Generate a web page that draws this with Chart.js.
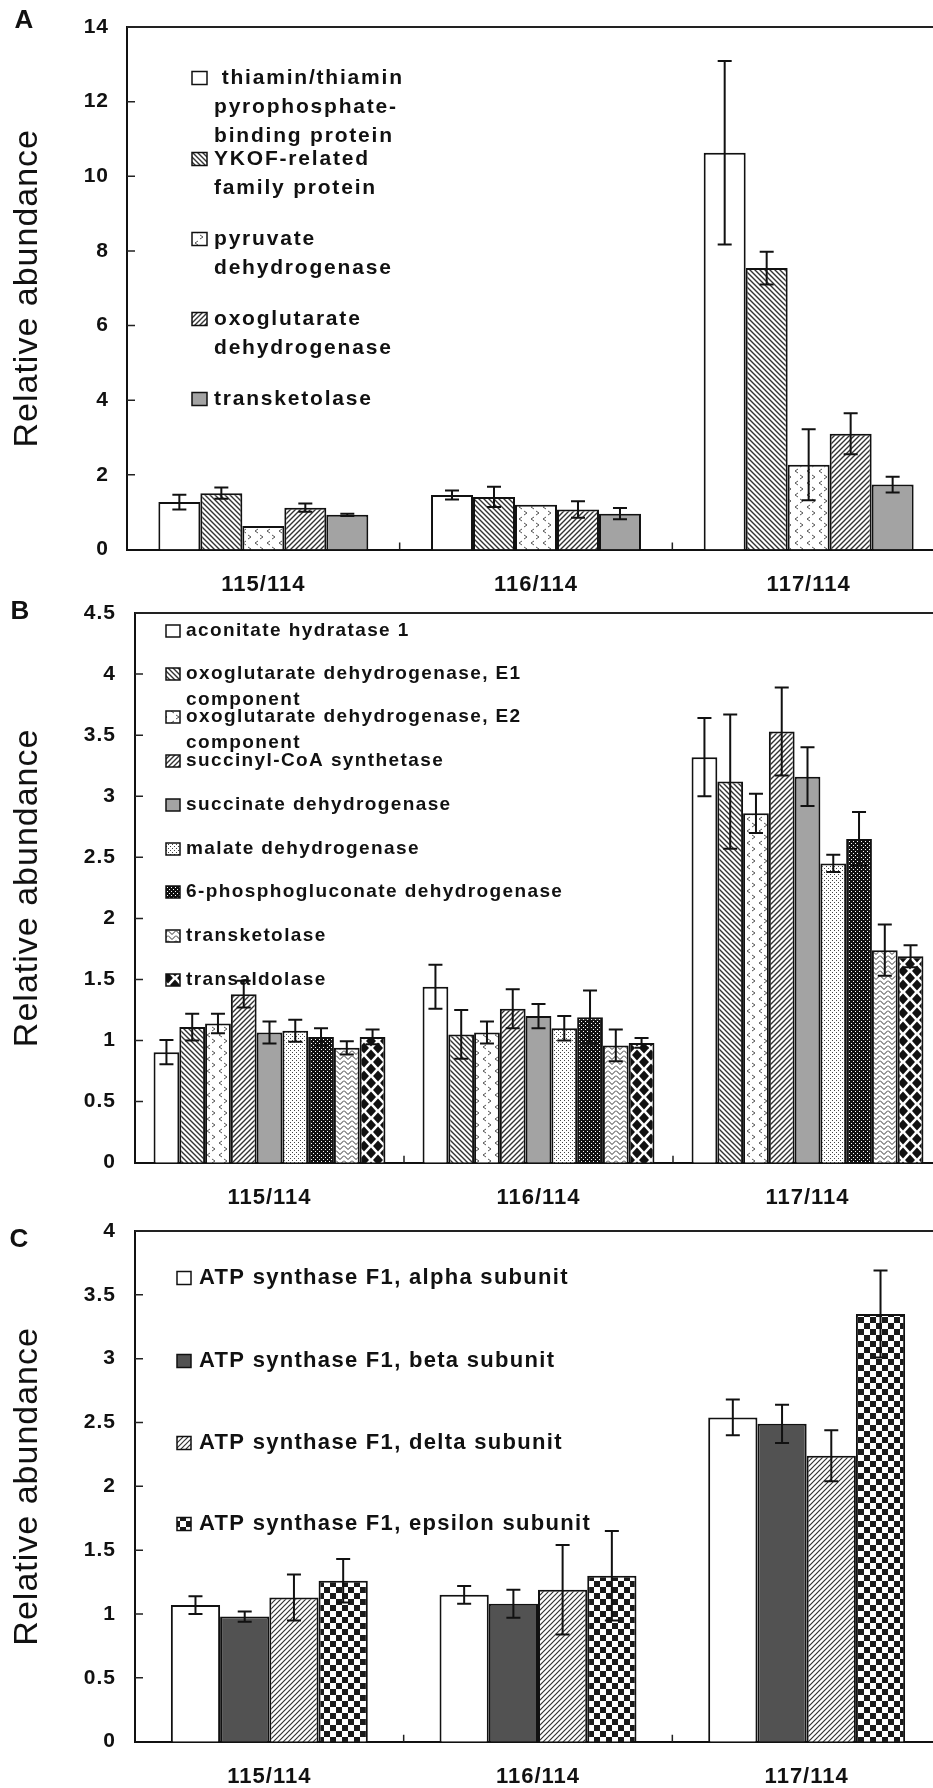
<!DOCTYPE html>
<html>
<head>
<meta charset="utf-8">
<script src="https://cdn.jsdelivr.net/npm/chart.js@4.4.0/dist/chart.umd.min.js"></script>
<style>
    html, body { margin: 0; padding: 0; background: #fff; overflow: hidden; width: 933px; height: 1788px; }
    canvas { position: absolute; left: 0; }
    #chartA { top: 0; }
    #chartB { top: 600px; }
    #chartC { top: 1215px; }
</style>
</head>
<body>
<canvas id="chartA" width="950" height="600"></canvas>
<canvas id="chartB" width="950" height="615"></canvas>
<canvas id="chartC" width="950" height="573"></canvas>
<script>
// Categorias (razões de marcação)
const categories = ['115/114', '116/114', '117/114'];

// Painel A - enzimas dependentes de tiamina
const namesA = [
    [' thiamin/thiamin', 'pyrophosphate-', 'binding protein'],
    ['YKOF-related', 'family protein'],
    ['pyruvate', 'dehydrogenase'],
    ['oxoglutarate', 'dehydrogenase'],
    ['transketolase']
];
const thiaminBP = [1.27, 1.46, 10.63];
const thiaminBPErr = [0.2, 0.12, 2.46];
const ykof = [1.51, 1.41, 7.54];
const ykofErr = [0.15, 0.27, 0.44];
const pyruvateDH = [0.63, 1.2, 2.27];
const pyruvateDHErr = [0, 0, 0.95];
const oxoDH = [1.12, 1.07, 3.1];
const oxoDHErr = [0.11, 0.22, 0.55];
const transketA = [0.93, 0.96, 1.74];
const transketAErr = [0.03, 0.15, 0.21];
const ticksA = [0, 2, 4, 6, 8, 10, 12, 14];

// Painel B - ciclo TCA e via das pentoses
const namesB = [
    ['aconitate hydratase 1'],
    ['oxoglutarate dehydrogenase, E1', 'component'],
    ['oxoglutarate dehydrogenase, E2', 'component'],
    ['succinyl-CoA synthetase'],
    ['succinate dehydrogenase'],
    ['malate dehydrogenase'],
    ['6-phosphogluconate dehydrogenase'],
    ['transketolase'],
    ['transaldolase']
];
const aconitase = [0.905, 1.44, 3.32];
const aconitaseErr = [0.1, 0.18, 0.32];
const oxoE1 = [1.11, 1.05, 3.12];
const oxoE1Err = [0.11, 0.2, 0.55];
const oxoE2 = [1.14, 1.065, 2.86];
const oxoE2Err = [0.08, 0.09, 0.16];
const succinylCoA = [1.38, 1.26, 3.53];
const succinylCoAErr = [0.11, 0.16, 0.36];
const succinateDH = [1.065, 1.2, 3.16];
const succinateDHErr = [0.09, 0.1, 0.24];
const malateDH = [1.08, 1.1, 2.45];
const malateDHErr = [0.09, 0.1, 0.07];
const pgDH = [1.03, 1.19, 2.65];
const pgDHErr = [0.07, 0.22, 0.22];
const transketB = [0.94, 0.96, 1.74];
const transketBErr = [0.055, 0.13, 0.21];
const transaldolase = [1.03, 0.98, 1.69];
const transaldolaseErr = [0.06, 0.04, 0.09];
const ticksB = [0, 0.5, 1, 1.5, 2, 2.5, 3, 3.5, 4, 4.5];

// Painel C - ATP sintase
const namesC = [
    ['ATP synthase F1, alpha subunit'],
    ['ATP synthase F1, beta subunit'],
    ['ATP synthase F1, delta subunit'],
    ['ATP synthase F1, epsilon subunit']
];
const atpAlpha = [1.07, 1.15, 2.54];
const atpAlphaErr = [0.07, 0.07, 0.14];
const atpBeta = [0.98, 1.08, 2.49];
const atpBetaErr = [0.04, 0.11, 0.15];
const atpDelta = [1.13, 1.19, 2.24];
const atpDeltaErr = [0.18, 0.35, 0.2];
const atpEpsilon = [1.26, 1.3, 3.35];
const atpEpsilonErr = [0.17, 0.35, 0.34];
const ticksC = [0, 0.5, 1, 1.5, 2, 2.5, 3, 3.5, 4];

const FONT = '"Liberation Sans", Arial, sans-serif';

// Função para criar padrões de preenchimento (hachuras)
const patCtx = document.createElement('canvas').getContext('2d');
function tile(w, h, draw, bg) {
    const c = document.createElement('canvas');
    c.width = w; c.height = h;
    const g = c.getContext('2d');
    g.fillStyle = bg || '#fff';
    g.fillRect(0, 0, w, h);
    draw(g, w, h);
    return patCtx.createPattern(c, 'repeat');
}
function diag(size, width, color, forward) {
    return tile(size, size, (g, w, h) => {
        g.strokeStyle = color; g.lineWidth = width;
        g.beginPath();
        if (forward) {
            g.moveTo(-1, h + 1); g.lineTo(w + 1, -1);
            g.moveTo(-1, 1); g.lineTo(1, -1);
            g.moveTo(w - 1, h + 1); g.lineTo(w + 1, h - 1);
        } else {
            g.moveTo(-1, -1); g.lineTo(w + 1, h + 1);
            g.moveTo(-1, h - 1); g.lineTo(1, h + 1);
            g.moveTo(w - 1, -1); g.lineTo(w + 1, 1);
        }
        g.stroke();
    });
}
const fills = {
    white: '#ffffff',
    gray: '#a3a3a3',
    dark: '#525252',
    back: diag(5, 1.4, '#333', false),
    fwd: diag(5, 1.4, '#333', true),
    fineFwd: diag(5, 1.2, '#333', true),
    chevron: tile(12, 12, g => {
        g.strokeStyle = '#555'; g.lineWidth = 1;
        g.beginPath();
        g.moveTo(6, 1); g.lineTo(3, 3); g.lineTo(6, 5);
        g.moveTo(8, 7); g.lineTo(11, 9); g.lineTo(8, 11);
        g.stroke();
    }),
    dots: tile(4, 4, g => {
        g.fillStyle = '#444';
        g.fillRect(0, 0, 1, 1); g.fillRect(2, 2, 1, 1);
    }),
    blackDots: tile(4, 4, g => {
        g.fillStyle = '#fff';
        g.fillRect(1, 1, 1, 1); g.fillRect(3, 3, 1, 1);
    }, '#111'),
    zigzag: tile(8, 5, g => {
        g.strokeStyle = '#333'; g.lineWidth = 1;
        g.beginPath();
        g.moveTo(0, 0.5); g.lineTo(4, 4.5); g.lineTo(8, 0.5);
        g.stroke();
    }),
    diamond: tile(14, 14, g => {
        g.fillStyle = '#111';
        [[7, 7], [0, 0], [14, 0], [0, 14], [14, 14]].forEach(([cx, cy]) => {
            g.beginPath();
            g.moveTo(cx, cy - 5.5); g.lineTo(cx + 5, cy); g.lineTo(cx, cy + 5.5); g.lineTo(cx - 5, cy);
            g.closePath(); g.fill();
        });
    }),
    checker: tile(12, 12, g => {
        g.fillStyle = '#1a1a1a';
        g.fillRect(0, 0, 6, 6); g.fillRect(6, 6, 6, 6);
    })
};

// Plugin para barras de erro, legenda, moldura e marcas dos eixos
const decor = {
    id: 'decor',
    beforeDraw(chart) {
        chart.ctx.letterSpacing = '1px';
    },
    beforeDatasetsDraw(chart, args, o) {
        const ctx = chart.ctx;
        ctx.save();
        ctx.letterSpacing = o.spacing;
        ctx.font = o.font;
        ctx.textBaseline = 'middle';
        ctx.textAlign = 'left';
        chart.data.datasets.forEach((ds, i) => {
            const y0 = o.rows[i];
            ctx.fillStyle = ds.backgroundColor;
            ctx.fillRect(o.swatchX, y0 - o.sh / 2, o.sw, o.sh);
            ctx.strokeStyle = '#111';
            ctx.lineWidth = 1.5;
            ctx.strokeRect(o.swatchX, y0 - o.sh / 2, o.sw, o.sh);
            ctx.fillStyle = '#111';
            ds.names.forEach((line, k) => ctx.fillText(line, o.textX, y0 + k * o.lineGap));
        });
        ctx.restore();
    },
    afterDatasetsDraw(chart, args, o) {
        const ctx = chart.ctx;
        const y = chart.scales.y;
        ctx.save();
        ctx.strokeStyle = '#111';
        ctx.lineWidth = 2;
        chart.data.datasets.forEach((ds, i) => {
            const meta = chart.getDatasetMeta(i);
            meta.data.forEach((bar, j) => {
                const e = ds.errors[j];
                if (!e) return;
                const top = y.getPixelForValue(ds.data[j] + e);
                const bot = y.getPixelForValue(ds.data[j] - e);
                ctx.beginPath();
                ctx.moveTo(bar.x, top); ctx.lineTo(bar.x, bot);
                ctx.moveTo(bar.x - o.cap, top); ctx.lineTo(bar.x + o.cap, top);
                ctx.moveTo(bar.x - o.cap, bot); ctx.lineTo(bar.x + o.cap, bot);
                ctx.stroke();
            });
        });
        ctx.restore();
    },
    afterDraw(chart, args, o) {
        const ctx = chart.ctx;
        const a = chart.chartArea;
        const x = chart.scales.x, y = chart.scales.y;
        ctx.save();
        ctx.strokeStyle = '#222';
        ctx.lineWidth = 2;
        ctx.beginPath();
        ctx.moveTo(a.left, a.top); ctx.lineTo(a.right, a.top);
        ctx.stroke();
        // marcas para dentro no eixo y
        ctx.lineWidth = 1.5;
        ctx.beginPath();
        y.ticks.forEach(t => {
            if (t.value === y.min) return;
            const py = y.getPixelForValue(t.value);
            ctx.moveTo(a.left, py); ctx.lineTo(a.left + 8, py);
        });
        // marcas entre as categorias
        for (let i = 0; i < categories.length - 1; i++) {
            const px = (x.getPixelForValue(i) + x.getPixelForValue(i + 1)) / 2;
            ctx.moveTo(px, a.bottom); ctx.lineTo(px, a.bottom - 7);
        }
        ctx.stroke();
        ctx.letterSpacing = '0px';
        ctx.fillStyle = '#111';
        ctx.font = 'bold 26px ' + FONT;
        ctx.textAlign = 'center';
        ctx.textBaseline = 'middle';
        ctx.fillText(o.letter, o.letterX, o.letterY);
        ctx.restore();
        ctx.letterSpacing = '0px';
    }
};

// Função para montar cada série
function series(names, data, errors, fill) {
    return { names: names, data: data, errors: errors, backgroundColor: fill, borderColor: '#111', borderWidth: 2 };
}

// Função para montar as opções de cada painel
function panelOptions(p) {
    return {
        responsive: false,
        animation: false,
        events: [],
        datasets: { bar: { categoryPercentage: p.groupWidth, barPercentage: 1 } },
        layout: { padding: { top: p.padTop, right: p.padRight, left: 0, bottom: 0 } },
        plugins: { legend: { display: false }, tooltip: { enabled: false }, decor: p.decor },
        scales: {
            x: {
                grid: { display: false, drawTicks: false },
                border: { display: true, color: '#111', width: 2 },
                ticks: { padding: 22, color: '#111', font: { family: FONT, size: 22, weight: 'bold' } },
                afterFit: s => { s.height = p.xHeight; }
            },
            y: {
                min: 0,
                max: p.ticks[p.ticks.length - 1],
                afterBuildTicks: s => { s.ticks = p.ticks.map(v => ({ value: v })); },
                grid: { display: false, drawTicks: false },
                border: { display: true, color: '#111', width: 2 },
                ticks: {
                    padding: p.tickPad, color: '#111',
                    font: { family: FONT, size: 21, weight: 'bold' },
                    callback: v => String(v)
                },
                title: {
                    display: true, text: 'Relative abundance', color: '#111',
                    font: { family: FONT, size: 34, weight: 'normal' }, padding: { top: 7 }
                },
                afterFit: s => {
                    s.width = p.yWidth;
                    s.paddingTop = 0;
                    s.paddingBottom = 0;
                }
            }
        }
    };
}

// Painel A
new Chart(document.getElementById('chartA'), {
    type: 'bar',
    data: {
        labels: categories,
        datasets: [
            series(namesA[0], thiaminBP, thiaminBPErr, fills.white),
            series(namesA[1], ykof, ykofErr, fills.back),
            series(namesA[2], pyruvateDH, pyruvateDHErr, fills.chevron),
            series(namesA[3], oxoDH, oxoDHErr, fills.fwd),
            series(namesA[4], transketA, transketAErr, fills.gray)
        ]
    },
    options: panelOptions({
        ticks: ticksA, groupWidth: 0.77, padTop: 27, padRight: 5, xHeight: 50.5, yWidth: 127, tickPad: 18,
        decor: {
            letter: 'A', letterX: 24, letterY: 21, cap: 7,
            swatchX: 192, textX: 214, sw: 15, sh: 13, lineGap: 29,
            font: 'bold 21px ' + FONT, spacing: '1.8px',
            rows: [78, 159, 239, 319, 399]
        }
    }),
    plugins: [decor]
});

// Painel B
new Chart(document.getElementById('chartB'), {
    type: 'bar',
    data: {
        labels: categories,
        datasets: [
            series(namesB[0], aconitase, aconitaseErr, fills.white),
            series(namesB[1], oxoE1, oxoE1Err, fills.back),
            series(namesB[2], oxoE2, oxoE2Err, fills.chevron),
            series(namesB[3], succinylCoA, succinylCoAErr, fills.fwd),
            series(namesB[4], succinateDH, succinateDHErr, fills.gray),
            series(namesB[5], malateDH, malateDHErr, fills.dots),
            series(namesB[6], pgDH, pgDHErr, fills.blackDots),
            series(namesB[7], transketB, transketBErr, fills.zigzag),
            series(namesB[8], transaldolase, transaldolaseErr, fills.diamond)
        ]
    },
    options: panelOptions({
        ticks: ticksB, groupWidth: 0.862, padTop: 13, padRight: 8, xHeight: 52.3, yWidth: 135, tickPad: 19,
        decor: {
            letter: 'B', letterX: 20, letterY: 12, cap: 7,
            swatchX: 166, textX: 186, sw: 14, sh: 12, lineGap: 26,
            font: 'bold 19px ' + FONT, spacing: '1.4px',
            rows: [31, 74, 117, 161, 205, 249, 292, 336, 380]
        }
    }),
    plugins: [decor]
});

// Painel C
new Chart(document.getElementById('chartC'), {
    type: 'bar',
    data: {
        labels: categories,
        datasets: [
            series(namesC[0], atpAlpha, atpAlphaErr, fills.white),
            series(namesC[1], atpBeta, atpBetaErr, fills.dark),
            series(namesC[2], atpDelta, atpDeltaErr, fills.fineFwd),
            series(namesC[3], atpEpsilon, atpEpsilonErr, fills.checker)
        ]
    },
    options: panelOptions({
        ticks: ticksC, groupWidth: 0.733, padTop: 16, padRight: 9, xHeight: 46.3, yWidth: 135, tickPad: 19,
        decor: {
            letter: 'C', letterX: 19, letterY: 25, cap: 7,
            swatchX: 177, textX: 199, sw: 14, sh: 13, lineGap: 26,
            font: 'bold 22px ' + FONT, spacing: '1.3px',
            rows: [63, 146, 228, 309]
        }
    }),
    plugins: [decor]
});
</script>
</body>
</html>
